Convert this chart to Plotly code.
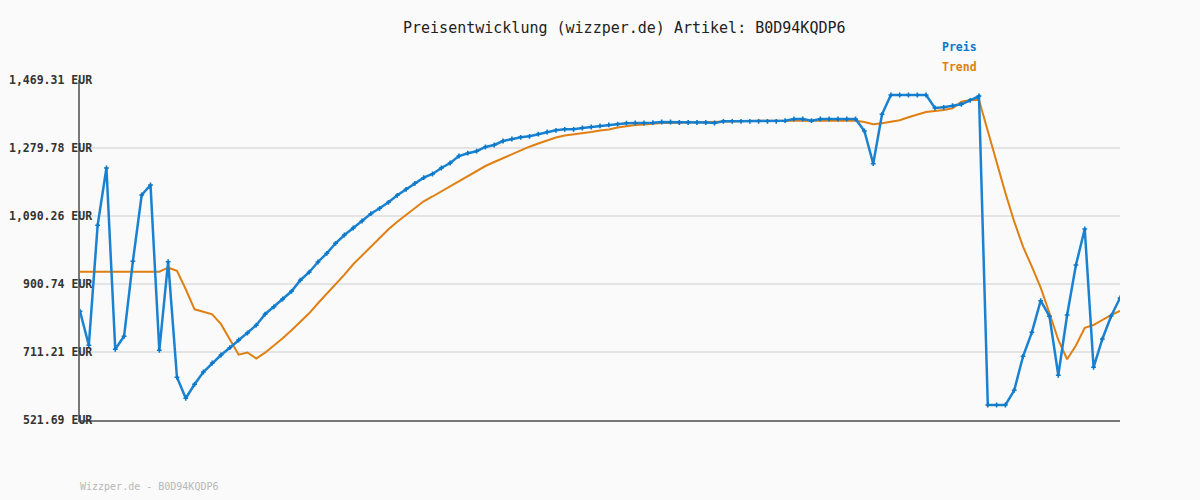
import plotly.graph_objects as go

# Preis (blue) per sample, EUR
preis = [
    824.6, 729.9, 1064.3, 1224.1, 718.7, 755.0, 964.0, 1148.8, 1176.7, 716.0,
    962.9, 640.7, 582.2, 621.2, 655.5, 680.6, 702.9, 723.2, 744.7, 764.2,
    785.9, 816.6, 837.2, 858.9, 880.4, 911.3, 933.6, 962.1, 986.3, 1014.2,
    1037.3, 1056.8, 1076.3, 1096.7, 1111.7, 1128.5, 1148.0, 1164.7, 1181.4, 1197.0,
    1207.3, 1224.1, 1238.0, 1257.5, 1265.3, 1270.9, 1282.6, 1288.2, 1299.3, 1304.9,
    1309.6, 1312.4, 1318.3, 1324.4, 1329.1, 1331.9, 1331.9, 1335.5, 1338.3, 1341.7,
    1344.5, 1346.4, 1348.9, 1349.5, 1349.5, 1350.3, 1352.3, 1352.3, 1350.9, 1350.9,
    1350.9, 1350.9, 1349.5, 1354.2, 1354.2, 1354.2, 1354.2, 1354.2, 1354.2, 1354.2,
    1355.9, 1360.6, 1360.6, 1355.9, 1360.6, 1360.6, 1360.6, 1360.6, 1360.6, 1327.2,
    1236.0, 1373.7, 1427.5, 1427.5, 1427.5, 1427.5, 1427.5, 1391.3, 1393.2, 1397.7,
    1401.6, 1412.7, 1424.7, 563.5, 563.5, 563.5, 604.5, 699.2, 766.1, 854.2,
    810.7, 646.3, 814.3, 953.7, 1054.0, 668.6, 747.5, 811.6, 861.7,
]

# Trend (orange) per sample, EUR
trend = [
    935.0, 935.0, 935.0, 935.0, 935.0, 935.0, 935.0, 935.0, 935.0, 935.0,
    946.2, 937.8, 886.0, 830.2, 823.5, 816.3, 788.7, 748.0, 703.7, 709.8,
    693.1, 709.3, 728.8, 749.4, 771.7, 794.0, 819.1, 847.0, 872.9, 899.9,
    926.7, 955.7, 980.7, 1005.8, 1029.0, 1053.2, 1074.4, 1093.9, 1113.4, 1131.2,
    1144.6, 1158.6, 1172.5, 1186.4, 1200.4, 1214.3, 1229.6, 1240.8, 1251.9, 1263.1,
    1274.2, 1283.4, 1292.3, 1300.7, 1309.1, 1314.6, 1317.4, 1320.2, 1324.4, 1328.6,
    1331.4, 1336.9, 1341.1, 1343.9, 1345.3, 1348.1, 1349.5, 1349.5, 1350.3, 1350.9,
    1351.4, 1352.3, 1352.8, 1353.4, 1353.6, 1354.2, 1355.5, 1355.5, 1355.5, 1355.5,
    1355.5, 1355.5, 1355.5, 1355.5, 1355.5, 1355.5, 1355.5, 1355.5, 1355.5, 1352.0,
    1345.9, 1348.7, 1352.3, 1357.0, 1365.3, 1371.8, 1380.1, 1382.9, 1385.7, 1390.7,
    1408.8, 1413.6, 1413.6, 1327.2, 1237.1, 1154.4, 1074.4, 1004.7, 949.0, 890.4,
    819.1, 744.7, 690.9, 729.3, 778.7, 786.5, 800.4, 814.3, 825.5,
]

tick_vals = [521.69, 711.21, 900.74, 1090.26, 1279.78, 1469.31]
tick_text = ["521.69 EUR", "711.21 EUR", "900.74 EUR", "1,090.26 EUR", "1,279.78 EUR", "1,469.31 EUR"]

title = "Preisentwicklung (wizzper.de) Artikel: B0D94KQDP6"
footer = "Wizzper.de - B0D94KQDP6"

BLUE = "#0b78c9"
ORANGE = "#e07f12"
BG = "#fafafa"
MONO = "DejaVu Sans Mono"

x = list(range(len(preis)))

fig = go.Figure()
fig.add_trace(go.Scatter(
    x=x, y=trend, mode="lines", name="Trend",
    line=dict(color=ORANGE, width=2),
))
fig.add_trace(go.Scatter(
    x=x, y=preis, mode="lines+markers", name="Preis",
    line=dict(color="#1a82d0", width=2.5),
    marker=dict(symbol="cross", size=4, color=BLUE),
))

annotations = []
for v, t in zip(tick_vals, tick_text):
    annotations.append(dict(
        x=0.0135, xref="paper", y=v, yref="y", text=t, showarrow=False,
        xanchor="right", yanchor="middle",
        font=dict(family=MONO, size=11.5, color="#333333", weight="bold"),
    ))

annotations += [
    dict(x=0.524, y=1.153, xref="paper", yref="paper", text=title, showarrow=False,
         xanchor="center", yanchor="middle",
         font=dict(family=MONO, size=15, color="#222222")),
    dict(x=0.827, y=1.097, xref="paper", yref="paper", text="Preis", showarrow=False,
         xanchor="left", yanchor="middle",
         font=dict(family=MONO, size=11.5, color=BLUE, weight="bold")),
    dict(x=0.827, y=1.038, xref="paper", yref="paper", text="Trend", showarrow=False,
         xanchor="left", yanchor="middle",
         font=dict(family=MONO, size=11.5, color=ORANGE, weight="bold")),
    dict(x=-0.002, y=-0.197, xref="paper", yref="paper", text=footer, showarrow=False,
         xanchor="left", yanchor="middle",
         font=dict(family=MONO, size=10, color="#b8b8b8")),
]

fig.update_layout(
    width=1200, height=500,
    margin=dict(l=80, r=80, t=80, b=80),
    paper_bgcolor=BG, plot_bgcolor=BG,
    showlegend=False,
    annotations=annotations,
    xaxis=dict(
        range=[0, len(preis) - 1], showgrid=False, zeroline=False,
        showticklabels=False, ticks="",
        showline=True, linecolor="#777777", linewidth=2,
    ),
    yaxis=dict(
        range=[tick_vals[0], tick_vals[-1]], tickvals=tick_vals,
        showticklabels=False, ticks="", zeroline=False,
        showgrid=True, gridcolor="#e4e4e4", gridwidth=2,
        showline=True, linecolor="#777777", linewidth=2,
    ),
)

fig.write_html(
    "out.html",
    config={"displayModeBar": False},
    post_script="document.body.style.margin='0';",
)
